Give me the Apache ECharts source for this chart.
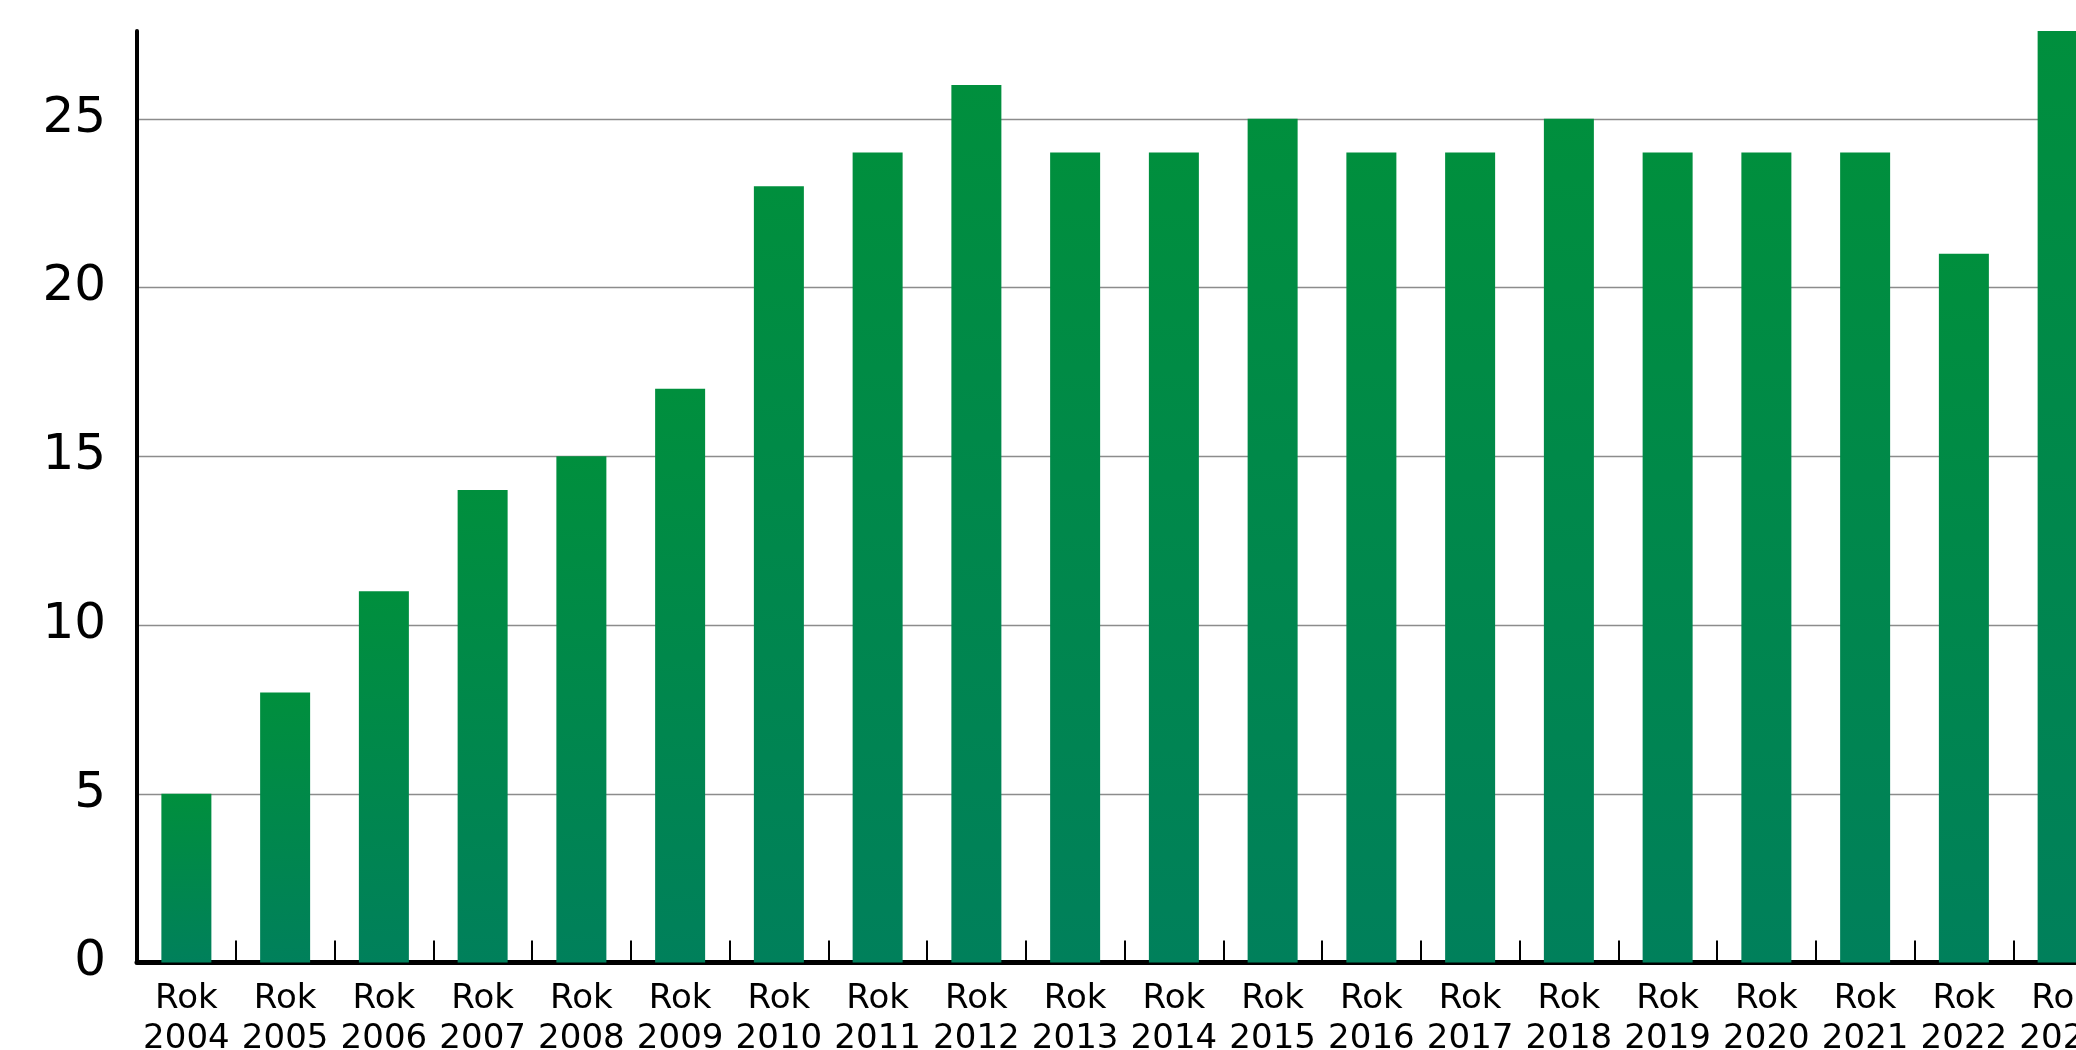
<!DOCTYPE html>
<html>
<head>
<meta charset="utf-8">
<style>
  html, body { margin: 0; padding: 0; background: #fff; overflow: hidden; }
  #chart { width: 2200px; height: 1050px; }
</style>
<script src="https://cdn.jsdelivr.net/npm/echarts@6/dist/echarts.min.js"></script>
</head>
<body>
<div id="chart"></div>
<script>
// Years shown on the category axis
const years = ['2004','2005','2006','2007','2008','2009','2010','2011','2012','2013',
               '2014','2015','2016','2017','2018','2019','2020','2021','2022','2023'];
const categories = years.map(y => 'Rok\n' + y);
// Value per year
const values = [5, 8, 11, 14, 15, 17, 23, 24, 26, 24, 24, 25, 24, 24, 25, 24, 24, 24, 21, 27.6];
// Value axis tick step
const yStep = 5;

const chart = echarts.init(document.getElementById('chart'), null, { renderer: 'canvas' });

const fontFamily = '"DejaVu Sans", "Liberation Sans", Arial, sans-serif';

chart.setOption({
  animation: false,
  grid: {
    left: 137, right: 88, top: 31, bottom: 87.5,
    containLabel: false,
    outerBoundsMode: 'none'
  },
  xAxis: {
    type: 'category',
    data: categories,
    boundaryGap: true,
    axisLine: { show: true, lineStyle: { color: '#000', width: 5 } },
    axisTick: { show: true, inside: true, length: 22, interval: 0, lineStyle: { color: '#000', width: 2 } },
    axisLabel: {
      interval: 0, color: '#000', fontFamily: fontFamily, fontSize: 34,
      lineHeight: 40, margin: 17
    },
    splitLine: { show: false }
  },
  yAxis: {
    type: 'value',
    min: 0,
    max: 'dataMax',
    interval: yStep,
    axisLine: { show: true, lineStyle: { color: '#000', width: 4 } },
    axisTick: { show: false },
    axisLabel: {
      color: '#000', fontFamily: fontFamily, fontSize: 50, margin: 31,
      showMaxLabel: false,
      formatter: v => (v % yStep === 0 ? String(v) : '')
    },
    splitLine: { show: true, showMinLine: false, showMaxLine: false, lineStyle: { color: '#8c8c8c', width: 1.3 } }
  },
  series: [{
    type: 'bar',
    data: values,
    barWidth: 50,
    itemStyle: {
      color: new echarts.graphic.LinearGradient(0, 0, 0, 1, [
        { offset: 0, color: '#008F3D' },
        { offset: 1, color: '#00805B' }
      ])
    }
  }]
});
</script>
</body>
</html>
